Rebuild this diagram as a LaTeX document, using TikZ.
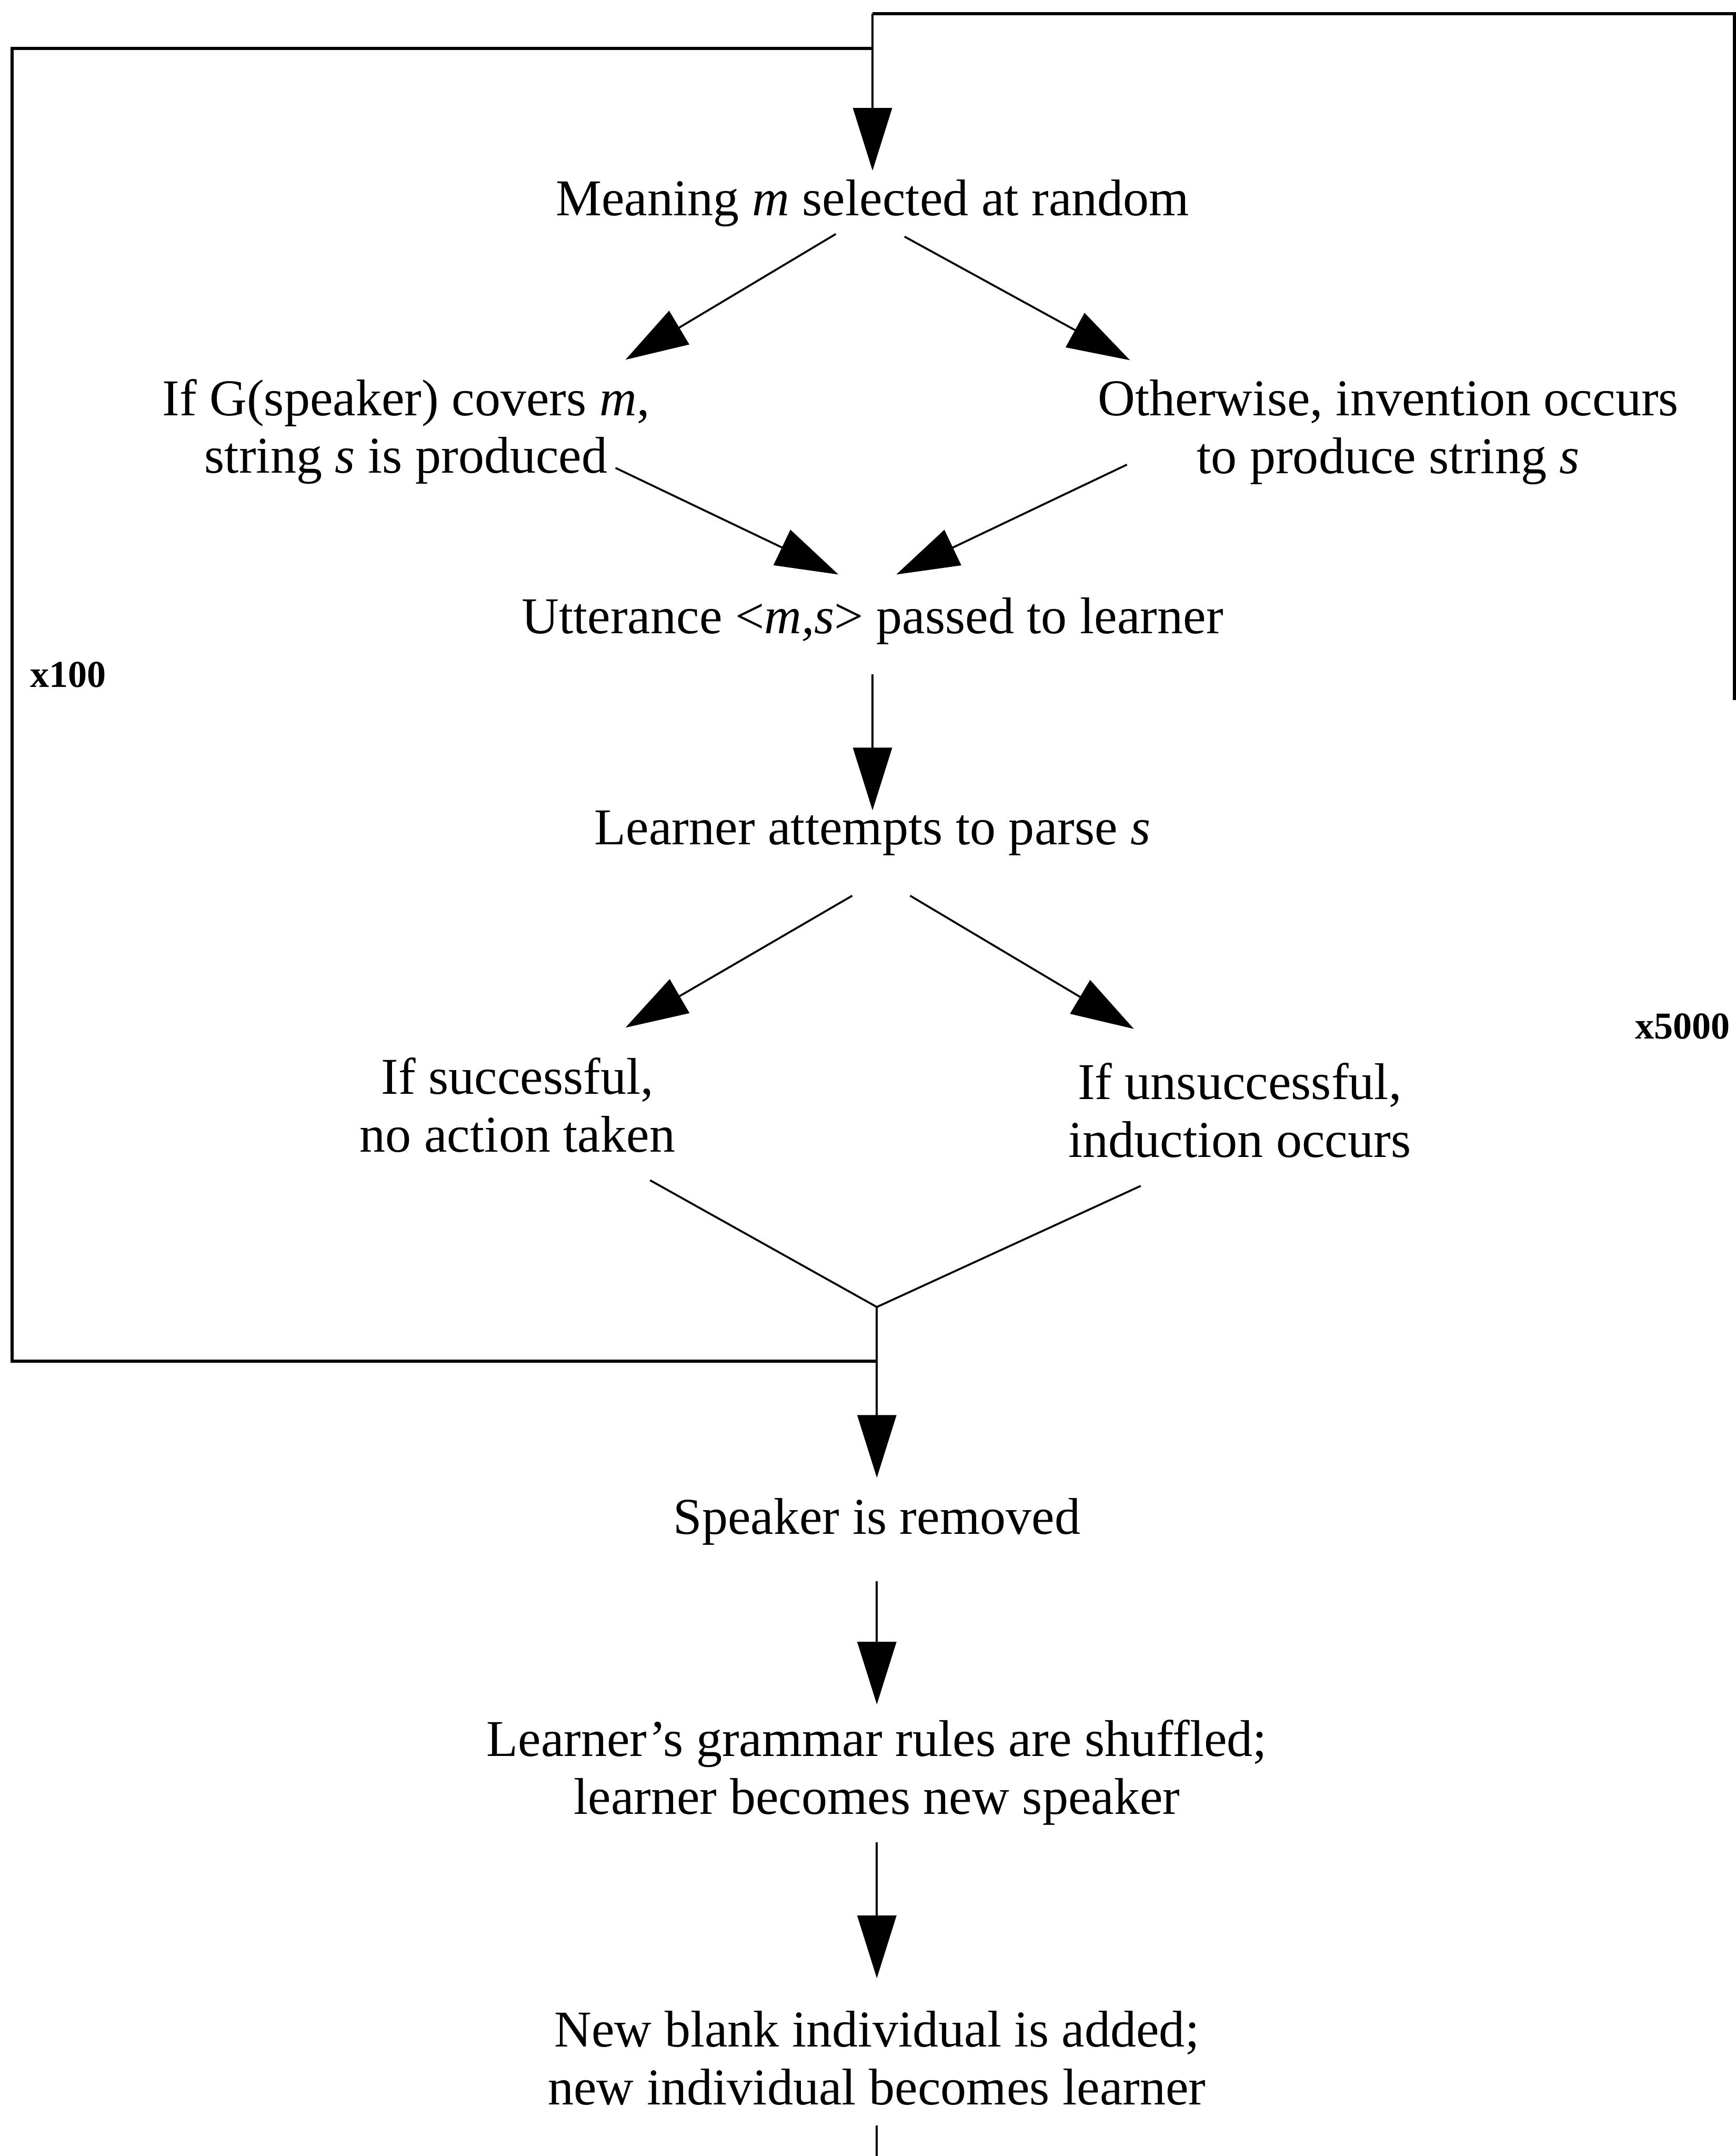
\documentclass[tikz,border=0pt]{standalone}
\usepackage{fontspec}
\setmainfont{Liberation Serif}
\usetikzlibrary{arrows.meta}

\begin{document}
\begin{tikzpicture}[
    txt/.style={align=center, inner sep=0pt, font=\fontsize{34}{38}\selectfont},
    count/.style={inner sep=0pt, font=\fontsize{25}{30}\selectfont\bfseries},
    arr/.style={-{Triangle[length=14.5mm, width=9mm]}, line width=0.045cm},
    link/.style={line width=0.045cm},
    loopline/.style={line width=0.07cm}
  ]
    \useasboundingbox (0,0) rectangle (40.19,-49.90);

    \node[txt] (meaning) at (20.2,-4.70) {Meaning \textit{m} selected at random};
    \node[txt] (covers) at (9.4,-9.99) {If G(speaker) covers \textit{m},\\string \textit{s} is produced};
    \node[txt] (invent) at (32.14,-10.0) {Otherwise, invention occurs\\to produce string \textit{s}};
    \node[txt] (utter) at (20.2,-14.38) {Utterance <\textit{m,s}> passed to learner};
    \node[txt] (parse) at (20.2,-19.28) {Learner attempts to parse \textit{s}};
    \node[txt] (success) at (11.98,-25.58) {If successful,\\no action taken};
    \node[txt] (fail) at (28.7,-25.7) {If unsuccessful,\\induction occurs};
    \node[txt] (removed) at (20.3,-35.22) {Speaker is removed};
    \node[txt] (shuffle) at (20.3,-41.02) {Learner's grammar rules are shuffled;\\learner becomes new speaker};
    \node[txt] (blank) at (20.3,-47.63) {New blank individual is added;\\new individual becomes learner};
    \node[count] (inner) at (1.58,-15.62) {x100};
    \node[count] (outer) at (38.95,-23.75) {x5000};

    % loop corners
    \coordinate (topjoin) at (20.2,-0.32);
    \coordinate (inmeet) at (20.2,-1.12);
    \coordinate (intop) at (0.28,-1.12);
    \coordinate (inbot) at (0.28,-31.5);
    \coordinate (join) at (20.3,-30.25);
    \coordinate (righttop) at (40.15,-0.32);
    \coordinate (rightcut) at (40.15,-16.2);
    \coordinate (exit) at (20.3,-49.9);

    \draw[loopline] (rightcut) -- (righttop) -- (topjoin);
    \draw[loopline] (inbot -| join) -- (inbot) -- (intop) -- (inmeet);
    \draw[arr, shorten >=0.2cm] (topjoin) -- (meaning.north);

    \draw[arr] ([xshift=-0.85cm,yshift=-0.165cm]meaning.south) -- ([xshift=5.08cm,yshift=0.44cm]covers.north);
    \draw[arr] ([xshift=0.74cm,yshift=-0.225cm]meaning.south) -- ([xshift=-5.98cm,yshift=0.445cm]invent.north);
    \draw[arr] ([xshift=4.85cm,yshift=0.385cm]covers.south) -- ([xshift=-0.79cm,yshift=0.535cm]utter.north);
    \draw[arr] ([xshift=-6.05cm,yshift=0.465cm]invent.south) -- ([xshift=0.55cm,yshift=0.535cm]utter.north);
    \draw[arr] ([yshift=-0.675cm]utter.south) -- (parse.north);

    \draw[arr] ([xshift=-0.47cm,yshift=-0.925cm]parse.south) -- ([xshift=2.5cm,yshift=0.695cm]success.north);
    \draw[arr] ([xshift=0.87cm,yshift=-0.925cm]parse.south) -- ([xshift=-2.45cm,yshift=0.785cm]fail.north);

    \draw[link] ([xshift=3.07cm,yshift=-0.635cm]success.south) -- (join);
    \draw[link] ([xshift=-2.29cm,yshift=-0.645cm]fail.south) -- (join);

    \draw[arr, shorten >=0.47cm] (join) -- (removed.north);
    \draw[arr, shorten <=0.83cm, shorten >=0.35cm] (removed.south) -- (shuffle.north);
    \draw[arr, shorten <=0.4cm, shorten >=0.75cm] (shuffle.south) -- (blank.north);
    \draw[link, shorten <=0.47cm] (blank.south) -- (exit);
\end{tikzpicture}
\end{document}
